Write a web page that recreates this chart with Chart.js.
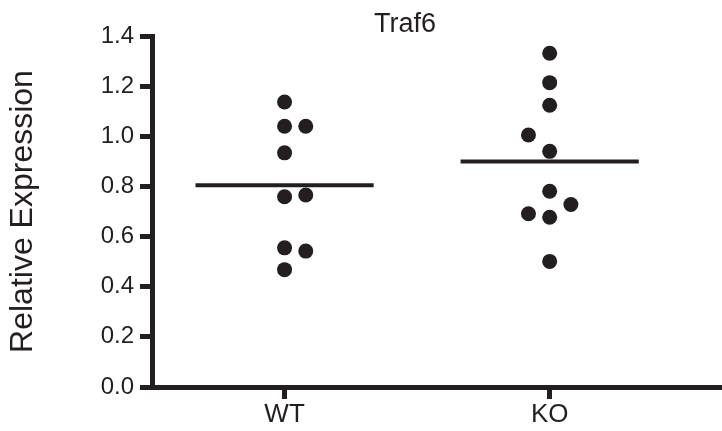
<!DOCTYPE html>
<html>
<head>
<meta charset="utf-8">
<script src="https://cdn.jsdelivr.net/npm/chart.js@4/dist/chart.umd.min.js"></script>
<style>
  html, body { margin: 0; padding: 0; background: #fff; overflow: hidden; }
  #wrap { width: 722px; height: 431px; position: relative; }
  canvas { display: block; }
</style>
</head>
<body>
<div id="wrap"><canvas id="traf6Chart"></canvas></div>
<script>
// groups on the x axis
const groups = ['WT', 'KO'];
// relative expression per animal
const wtValues = [1.137, 1.040, 1.040, 0.934, 0.759, 0.766, 0.555, 0.542, 0.468];
const koValues = [1.331, 1.214, 1.124, 1.005, 0.940, 0.781, 0.728, 0.691, 0.677, 0.501];
// column of each dot inside its group (-1 left, 0 centre, 1 right)
const wtCols = [0, 0, 1, 0, 0, 1, 0, 1, 0];
const koCols = [0, 0, 0, -1, 0, 0, 1, -1, 0, 0];
const yTicks = [0, 0.2, 0.4, 0.6, 0.8, 1.0, 1.2, 1.4];

const ink = '#231f20';
const font = "'Liberation Sans', Arial, sans-serif";
const jitter = 0.08;
const halfLine = 0.336;

function mean(arr) {
    return arr.reduce((a, b) => a + b, 0) / arr.length;
}

function dots(values, cols, groupIndex) {
    return values.map((v, i) => ({ x: groupIndex + 1 + cols[i] * jitter, y: v }));
}

function meanLine(values, groupIndex) {
    const m = mean(values);
    return [{ x: groupIndex + 1 - halfLine, y: m }, { x: groupIndex + 1 + halfLine, y: m }];
}

const dotStyle = {
    type: 'scatter',
    pointRadius: 7.5,
    pointHoverRadius: 7.5,
    pointBackgroundColor: ink,
    pointBorderWidth: 0,
    showLine: false
};

const lineStyle = {
    type: 'line',
    borderColor: ink,
    borderWidth: 4,
    pointRadius: 0,
    fill: false
};

// title sits a bit right of canvas centre in the original
const titlePlugin = {
    id: 'plotTitle',
    afterDraw(chart) {
        const ctx = chart.ctx;
        ctx.save();
        ctx.fillStyle = ink;
        ctx.font = '27px ' + font;
        ctx.textAlign = 'center';
        ctx.textBaseline = 'alphabetic';
        ctx.fillText('Traf6', 405, 32);
        ctx.restore();
    }
};

new Chart(document.getElementById('traf6Chart'), {
    data: {
        datasets: [
            Object.assign({ label: 'WT', data: dots(wtValues, wtCols, 0) }, dotStyle),
            Object.assign({ label: 'KO', data: dots(koValues, koCols, 1) }, dotStyle),
            Object.assign({ label: 'WT mean', data: meanLine(wtValues, 0) }, lineStyle),
            Object.assign({ label: 'KO mean', data: meanLine(koValues, 1) }, lineStyle)
        ]
    },
    options: {
        responsive: true,
        maintainAspectRatio: false,
        animation: false,
        layout: { autoPadding: false, padding: { top: 36, left: 0, right: 0, bottom: 0 } },
        plugins: {
            legend: { display: false },
            tooltip: { enabled: false },
            title: { display: false }
        },
        scales: {
            x: {
                type: 'linear',
                min: 0.5,
                max: 2.65,
                afterFit: s => {
                    s.height = 44;
                    s.paddingLeft = 0;
                    s.paddingRight = 0;
                },
                afterBuildTicks: s => { s.ticks = groups.map((g, i) => ({ value: i + 1 })); },
                ticks: {
                    color: ink,
                    font: { family: font, size: 26 },
                    padding: 0,
                    maxRotation: 0,
                    callback: v => groups[v - 1]
                },
                grid: {
                    drawOnChartArea: false,
                    drawTicks: true,
                    tickLength: 12,
                    tickWidth: 5,
                    tickColor: ink
                },
                border: { display: true, color: ink, width: 5 }
            },
            y: {
                min: 0,
                max: 1.4,
                afterFit: s => { s.width = 152; },
                afterBuildTicks: s => { s.ticks = yTicks.map(v => ({ value: v })); },
                ticks: {
                    color: ink,
                    font: { family: font, size: 24 },
                    padding: 6,
                    callback: v => v.toFixed(1)
                },
                grid: {
                    drawOnChartArea: false,
                    drawTicks: true,
                    tickLength: 12,
                    tickWidth: 5,
                    tickColor: ink
                },
                border: { display: true, color: ink, width: 5 },
                title: {
                    display: true,
                    text: 'Relative Expression',
                    color: ink,
                    font: { family: font, size: 32 },
                    padding: { top: 4, bottom: 0 }
                }
            }
        }
    },
    plugins: [titlePlugin]
});
</script>
</body>
</html>
